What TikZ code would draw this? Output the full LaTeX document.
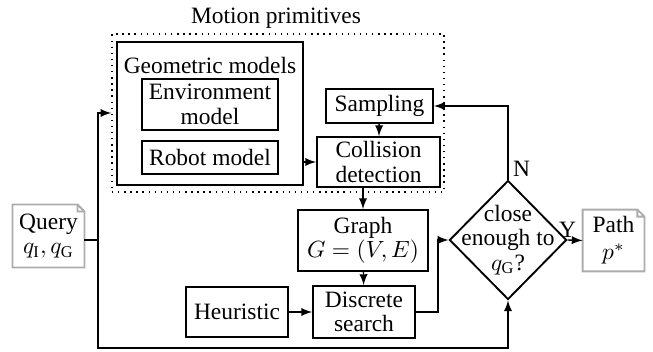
\documentclass[tikz,border=0pt]{standalone}
\usepackage{amsmath}
\usepackage{fontspec}
\setmainfont{Liberation Serif}
\usetikzlibrary{positioning,shapes,calc,arrows}

\begin{document}
\begin{tikzpicture}[x=0.015cm,y=-0.015cm,font=\fontsize{10}{10.5}\selectfont,
	blk/.style={draw,thick,rectangle,align=center,inner sep=0pt},
	doc/.style={align=center,inner sep=0pt,fill=white},
	conn/.style={semithick,-latex}]
			\useasboundingbox (0,0) rectangle (653,352);
			% motion primitives group
			\node (title) at (276,18) {Motion primitives};
			\node[draw,dotted,semithick,inner sep=0pt,minimum width=141.7pt,minimum height=67.4pt] (prim) at (278,113) {};
			\node[blk,minimum width=79.4pt,minimum height=61pt] (geom) at (210,113.5) {};
			\node (geomtxt) at (210,65) {Geometric models};
			\node[blk,minimum width=58pt,minimum height=21.8pt] (env) at (210,104.5) {Environment\\model};
			\node[blk,minimum width=58pt,minimum height=14.1pt] (robot) at (210,157.5) {Robot model};
			\node[blk,minimum width=45.7pt,minimum height=14.5pt] (samp) at (379.5,106) {Sampling};
			\node[blk,minimum width=52.5pt,minimum height=21.3pt] (coll) at (378.5,162) {Collision\\detection};
			% search part
			\node[blk,minimum width=55.5pt,minimum height=26pt] (graph) at (363,240.5) {Graph\\$G=(V,E)$};
			\node[blk,minimum width=43.5pt,minimum height=22.2pt] (search) at (364,312) {Discrete\\search};
			\node[blk,minimum width=43.5pt,minimum height=21.3pt] (heur) at (237,312) {Heuristic};
			\node[draw,thick,diamond,inner sep=0pt,minimum width=50pt,minimum height=50.8pt] (close) at (508,240) {};
			\node[align=center] (closetxt) at (508,240) {close\\enough to\\$q_{\mathrm{G}}$?};
			% input and output
			\node[doc,minimum width=30.3pt,minimum height=26.5pt] (query) at (48.5,236) {Query\\$q_{\mathrm{I}},q_{\mathrm{G}}$};
			\node[doc,minimum width=26pt,minimum height=26pt] (path) at (613.5,240.5) {Path\\[1pt]$p^{*}$};
			\foreach \d in {query,path}
				\draw[gray!65,thick] (\d.north west) -- ([xshift=-3pt]\d.north east) -- ([yshift=-3pt]\d.north east) -- (\d.south east) -- (\d.south west) -- cycle
					([xshift=-3pt]\d.north east) |- ([yshift=-3pt]\d.north east);
			\coordinate (jn) at (98,240);
			\coordinate (bot) at (98,348);
			\draw[semithick] (query.east |- jn) -- (jn);
			\draw[conn] (jn) |- (prim.west);
			\draw[conn] (jn) -- (bot) -| (close.south);
			\draw[conn] (geom.east |- coll) -- (coll.west);
			\draw[conn] (samp) -- (coll);
			\draw[conn] (coll.south -| graph) -- (graph.north);
			\draw[conn] (graph) -- (search);
			\draw[conn] (heur) -- (search);
			\draw[conn] (search.east) -- ++(22,0) |- (close.west);
			\draw[conn] (close.north) |- (samp.east);
			\draw[conn] (close.east) -- (path.west);
			\node[above right,inner sep=1pt,xshift=1pt] (nlab) at (close.north) {N};
			\node[above,inner sep=1pt] (ylab) at (close.east) {Y};
\end{tikzpicture}
\end{document}
